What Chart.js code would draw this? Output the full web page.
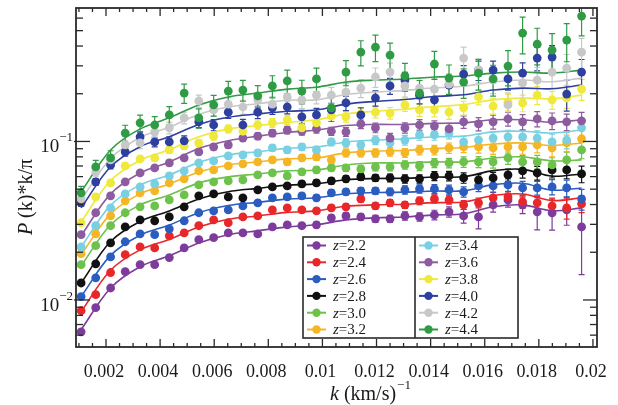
<!DOCTYPE html>
<html lang="en">
<head>
    <meta charset="UTF-8">
    <title>P(k) per redshift</title>
    <script src="https://cdn.jsdelivr.net/npm/chart.js"></script>
    <style>
        html, body { margin: 0; padding: 0; background: #fff; }
        #wrap { width: 618px; height: 405px; position: relative; }
    </style>
</head>
<body>
    <div id="wrap"><canvas id="pkChart"></canvas></div>

    <script>
        // k bins in (km/s)^-1
        const kValues = [0.00108, 0.00162, 0.00217, 0.00271, 0.00326, 0.00380, 0.00434, 0.00489, 0.00543, 0.00598,
            0.00652, 0.00706, 0.00761, 0.00815, 0.00870, 0.00924, 0.00978, 0.01033, 0.01087, 0.01142,
            0.01196, 0.01250, 0.01305, 0.01359, 0.01414, 0.01468, 0.01522, 0.01577, 0.01631, 0.01686,
            0.01740, 0.01794, 0.01849, 0.01903, 0.01958];
        const kFit = [0.00108, 0.00217, 0.00326, 0.00434, 0.00543, 0.00652, 0.00761, 0.00870, 0.00978,
            0.01087, 0.01196, 0.01305, 0.01414, 0.01522, 0.01631, 0.01740, 0.01849, 0.01958];

        const redshifts = ['2.2', '2.4', '2.6', '2.8', '3.0', '3.2', '3.4', '3.6', '3.8', '4.0', '4.2', '4.4'];
        const colors = ['#7d3c9c', '#e8272b', '#2b5cc0', '#111111', '#6cc24a', '#f5b626', '#78d0e2', '#8d5b9f',
            '#eee93a', '#2d3f9f', '#c8c8c8', '#2f9b45'];

        // measured P(k)*k/pi
        const pk22 = [0.00630, 0.00894, 0.0119, 0.0151, 0.0167, 0.0167, 0.0185, 0.0213, 0.0240, 0.0247, 0.0265, 0.0265, 0.0261, 0.0289, 0.0298, 0.0294, 0.0298, 0.0330, 0.0339, 0.0334, 0.0325, 0.0325, 0.0339, 0.0334, 0.0344, 0.0360, 0.0339, 0.0334, 0.0398, 0.0428, 0.0398, 0.0360, 0.0354, 0.0370, 0.0289];
        const pk24 = [0.00855, 0.0108, 0.0149, 0.0193, 0.0216, 0.0213, 0.0254, 0.0265, 0.0294, 0.0320, 0.0307, 0.0334, 0.0339, 0.0370, 0.0381, 0.0370, 0.0365, 0.0381, 0.0387, 0.0434, 0.0392, 0.0410, 0.0398, 0.0422, 0.0434, 0.0428, 0.0398, 0.0410, 0.0441, 0.0447, 0.0416, 0.0410, 0.0392, 0.0381, 0.0404];
        const pk26 = [0.0105, 0.0138, 0.0187, 0.0233, 0.0261, 0.0258, 0.0281, 0.0316, 0.0355, 0.0365, 0.0370, 0.0392, 0.0410, 0.0441, 0.0447, 0.0454, 0.0441, 0.0474, 0.0481, 0.0488, 0.0488, 0.0481, 0.0495, 0.0502, 0.0502, 0.0495, 0.0481, 0.0524, 0.0524, 0.0532, 0.0509, 0.0509, 0.0517, 0.0509, 0.0434];
        const pk28 = [0.0128, 0.0169, 0.0229, 0.0289, 0.0320, 0.0316, 0.0334, 0.0387, 0.0454, 0.0467, 0.0447, 0.0441, 0.0495, 0.0517, 0.0524, 0.0540, 0.0548, 0.0564, 0.0581, 0.0598, 0.0589, 0.0589, 0.0581, 0.0581, 0.0606, 0.0606, 0.0589, 0.0572, 0.0589, 0.0615, 0.0652, 0.0633, 0.0661, 0.0661, 0.0624];
        const pk30 = [0.0167, 0.0220, 0.0294, 0.0355, 0.0387, 0.0392, 0.0428, 0.0460, 0.0532, 0.0556, 0.0564, 0.0572, 0.0615, 0.0633, 0.0606, 0.0642, 0.0661, 0.0681, 0.0681, 0.0671, 0.0691, 0.0691, 0.0711, 0.0701, 0.0732, 0.0732, 0.0743, 0.0743, 0.0743, 0.0787, 0.0743, 0.0743, 0.0711, 0.0765, 0.0884];
        const pk32 = [0.0196, 0.0261, 0.0339, 0.0422, 0.0474, 0.0488, 0.0548, 0.0581, 0.0652, 0.0661, 0.0701, 0.0722, 0.0743, 0.0765, 0.0743, 0.0787, 0.0799, 0.0765, 0.0847, 0.0847, 0.0847, 0.0859, 0.0847, 0.0884, 0.0884, 0.0910, 0.0923, 0.0923, 0.0910, 0.0923, 0.0923, 0.0951, 0.0910, 0.0979, 0.104];
        const pk34 = [0.0216, 0.0294, 0.0381, 0.0467, 0.0517, 0.0540, 0.0606, 0.0652, 0.0732, 0.0754, 0.0810, 0.0822, 0.0847, 0.0910, 0.0884, 0.0923, 0.0884, 0.0993, 0.0979, 0.0951, 0.102, 0.0979, 0.102, 0.110, 0.110, 0.113, 0.0993, 0.102, 0.105, 0.107, 0.107, 0.105, 0.0993, 0.102, 0.122];
        const pk36 = [0.0258, 0.0355, 0.0454, 0.0556, 0.0633, 0.0681, 0.0732, 0.0787, 0.0859, 0.0923, 0.0951, 0.105, 0.108, 0.113, 0.118, 0.116, 0.120, 0.116, 0.115, 0.129, 0.122, 0.105, 0.122, 0.127, 0.125, 0.120, 0.133, 0.129, 0.133, 0.139, 0.133, 0.139, 0.135, 0.133, 0.135];
        const pk38 = [0.0307, 0.0447, 0.0548, 0.0701, 0.0776, 0.0787, 0.0884, 0.0937, 0.0979, 0.108, 0.120, 0.116, 0.127, 0.131, 0.137, 0.122, 0.131, 0.145, 0.143, 0.149, 0.153, 0.151, 0.170, 0.158, 0.158, 0.153, 0.163, 0.191, 0.167, 0.177, 0.175, 0.196, 0.183, 0.188, 0.214];
        const pk40 = [0.0410, 0.0556, 0.0711, 0.0859, 0.107, 0.0993, 0.0993, 0.101, 0.133, 0.127, 0.153, 0.127, 0.153, 0.163, 0.165, 0.143, 0.147, 0.158, 0.175, 0.147, 0.188, 0.224, 0.244, 0.196, 0.183, 0.227, 0.266, 0.282, 0.282, 0.248, 0.270, 0.336, 0.341, 0.199, 0.274];
        const pk42 = [0.0434, 0.0642, 0.0765, 0.0951, 0.0979, 0.115, 0.122, 0.141, 0.180, 0.158, 0.172, 0.165, 0.183, 0.172, 0.191, 0.183, 0.196, 0.196, 0.205, 0.217, 0.255, 0.274, 0.224, 0.217, 0.214, 0.230, 0.336, 0.282, 0.244, 0.170, 0.234, 0.244, 0.274, 0.290, 0.366];
        const pk44 = [0.0474, 0.0691, 0.0787, 0.113, 0.131, 0.127, 0.147, 0.202, 0.141, 0.170, 0.208, 0.211, 0.194, 0.224, 0.241, 0.208, 0.248, 0.163, 0.274, 0.366, 0.394, 0.351, 0.259, 0.202, 0.308, 0.251, 0.237, 0.270, 0.248, 0.299, 0.483, 0.411, 0.377, 0.436, 0.618];

        // relative 1-sigma errors
        const err22 = [.02, .02, .02, .02, .02, .02, .02, .02, .025, .025, .025, .03, .03, .03, .035, .035, .04, .04, .045, .045, .05, .05, .06, .06, .07, .075, .1, .16, .1, .1, .12, .23, .22, .2, .5];
        const err24 = [.02, .02, .02, .02, .02, .02, .02, .02, .025, .025, .025, .03, .03, .03, .03, .035, .035, .04, .04, .045, .045, .05, .05, .055, .06, .06, .065, .07, .08, .08, .09, .1, .12, .15, .12];
        const err26 = [.02, .02, .02, .02, .02, .02, .02, .02, .025, .025, .03, .03, .03, .035, .035, .04, .04, .045, .045, .05, .05, .055, .06, .06, .065, .07, .075, .08, .085, .09, .1, .1, .11, .12, .15];
        const err28 = [.02, .02, .02, .02, .02, .02, .02, .025, .025, .025, .03, .03, .03, .035, .035, .04, .04, .045, .045, .05, .05, .055, .06, .06, .065, .07, .075, .08, .085, .09, .1, .1, .11, .12, .12];
        const err30 = [.025, .025, .025, .025, .025, .025, .025, .03, .03, .03, .03, .035, .035, .035, .04, .04, .045, .045, .05, .05, .055, .055, .06, .065, .065, .07, .075, .08, .085, .09, .1, .1, .11, .12, .12];
        const err32 = [.03, .03, .03, .03, .03, .03, .03, .03, .035, .035, .035, .04, .04, .04, .045, .045, .05, .05, .055, .055, .06, .06, .065, .07, .07, .075, .08, .085, .09, .095, .1, .11, .12, .12, .13];
        const err34 = [.03, .03, .03, .03, .03, .03, .035, .035, .035, .04, .04, .04, .045, .045, .05, .05, .055, .055, .06, .06, .065, .065, .07, .075, .075, .08, .085, .09, .095, .1, .1, .11, .12, .12, .13];
        const err36 = [.035, .035, .035, .035, .035, .035, .04, .04, .04, .045, .045, .045, .05, .05, .055, .055, .06, .06, .065, .065, .07, .07, .075, .08, .08, .085, .09, .095, .1, .1, .11, .11, .12, .12, .13];
        const err38 = [.04, .04, .04, .04, .04, .045, .045, .05, .05, .055, .055, .06, .06, .065, .065, .07, .07, .075, .075, .08, .08, .085, .09, .09, .095, .1, .1, .11, .11, .12, .12, .13, .13, .14, .15];
        const err40 = [.05, .05, .055, .06, .07, .07, .075, .075, .08, .08, .085, .085, .09, .09, .095, .1, .1, .1, .105, .11, .11, .115, .12, .12, .125, .13, .13, .14, .14, .15, .16, .17, .18, .22, .2];
        const err42 = [.06, .06, .065, .07, .08, .08, .085, .085, .09, .09, .1, .1, .1, .11, .11, .12, .12, .12, .13, .13, .14, .14, .15, .15, .16, .16, .17, .17, .18, .19, .2, .2, .21, .22, .22];
        const err44 = [.1, .1, .11, .12, .12, .13, .13, .14, .14, .15, .15, .15, .16, .16, .17, .17, .17, .18, .18, .18, .19, .19, .2, .2, .2, .21, .21, .22, .22, .25, .26, .26, .27, .27, .25];

        // best-fit model curves, sampled on kFit
        const fit22 = [0.00649, 0.0119, 0.0162, 0.0190, 0.0229, 0.0258, 0.0273, 0.0289, 0.0298, 0.0320, 0.0330, 0.0334, 0.0344, 0.0349, 0.0387, 0.0398, 0.0365, 0.0381];
        const fit24 = [0.00843, 0.0154, 0.0207, 0.0241, 0.0289, 0.0323, 0.0339, 0.0357, 0.0365, 0.0390, 0.0398, 0.0402, 0.0411, 0.0415, 0.0456, 0.0466, 0.0424, 0.0441];
        const fit26 = [0.0105, 0.0191, 0.0256, 0.0297, 0.0355, 0.0394, 0.0413, 0.0433, 0.0441, 0.0468, 0.0476, 0.0479, 0.0487, 0.0488, 0.0534, 0.0545, 0.0493, 0.0509];
        const fit28 = [0.0128, 0.0234, 0.0313, 0.0364, 0.0434, 0.0482, 0.0506, 0.0530, 0.0540, 0.0574, 0.0584, 0.0586, 0.0597, 0.0599, 0.0655, 0.0667, 0.0604, 0.0624];
        const fit30 = [0.0164, 0.0298, 0.0398, 0.0460, 0.0548, 0.0598, 0.0624, 0.0652, 0.0661, 0.0711, 0.0732, 0.0732, 0.0743, 0.0743, 0.0787, 0.0799, 0.0754, 0.0765];
        const fit32 = [0.0193, 0.0349, 0.0467, 0.0540, 0.0642, 0.0711, 0.0743, 0.0776, 0.0787, 0.0847, 0.0871, 0.0878, 0.0903, 0.0917, 0.0964, 0.0979, 0.0944, 0.0979];
        const fit34 = [0.0216, 0.0395, 0.0532, 0.0615, 0.0738, 0.0822, 0.0862, 0.0905, 0.0923, 0.0993, 0.102, 0.104, 0.107, 0.108, 0.115, 0.116, 0.113, 0.118];
        const fit36 = [0.0254, 0.0467, 0.0633, 0.0743, 0.0903, 0.101, 0.108, 0.114, 0.118, 0.126, 0.128, 0.128, 0.130, 0.131, 0.137, 0.137, 0.132, 0.137];
        const fit38 = [0.0311, 0.0567, 0.0762, 0.0887, 0.107, 0.120, 0.126, 0.132, 0.137, 0.149, 0.155, 0.160, 0.166, 0.171, 0.183, 0.188, 0.186, 0.196];
        const fit40 = [0.0381, 0.0692, 0.0927, 0.107, 0.128, 0.142, 0.149, 0.155, 0.158, 0.172, 0.179, 0.184, 0.192, 0.197, 0.211, 0.217, 0.215, 0.227];
        const fit42 = [0.0428, 0.0780, 0.106, 0.123, 0.148, 0.165, 0.173, 0.182, 0.183, 0.198, 0.205, 0.210, 0.218, 0.223, 0.237, 0.244, 0.238, 0.251];
        const fit44 = [0.0481, 0.0884, 0.120, 0.141, 0.170, 0.191, 0.202, 0.214, 0.220, 0.237, 0.244, 0.248, 0.255, 0.259, 0.270, 0.274, 0.270, 0.282];

        // axis ticks
        const xMajorTicks = [0.002, 0.004, 0.006, 0.008, 0.010, 0.012, 0.014, 0.016, 0.018, 0.020];
        const xTickLabels = ['0.002', '0.004', '0.006', '0.008', '0.01', '0.012', '0.014', '0.016', '0.018', '0.02'];
        const xMinorTicks = [0.001, 0.0015, 0.0025, 0.003, 0.0035, 0.0045, 0.005, 0.0055, 0.0065, 0.007, 0.0075,
            0.0085, 0.009, 0.0095, 0.0105, 0.011, 0.0115, 0.0125, 0.013, 0.0135, 0.0145, 0.015, 0.0155,
            0.0165, 0.017, 0.0175, 0.0185, 0.019, 0.0195];
        const yMajorTicks = [0.01, 0.1];
        const yTickExponents = ['\u22122', '\u22121'];
        const yMinorTicks = [0.006, 0.007, 0.008, 0.009, 0.02, 0.03, 0.04, 0.05, 0.06, 0.07, 0.08, 0.09,
            0.2, 0.3, 0.4, 0.5, 0.6];

        const values = [pk22, pk24, pk26, pk28, pk30, pk32, pk34, pk36, pk38, pk40, pk42, pk44];
        const errors = [err22, err24, err26, err28, err30, err32, err34, err36, err38, err40, err42, err44];
        const fits = [fit22, fit24, fit26, fit28, fit30, fit32, fit34, fit36, fit38, fit40, fit42, fit44];

        const serif = '"Liberation Serif", "Times New Roman", serif';

        const series = redshifts.map((z, s) => ({ z: z, color: colors[s], values: values[s], err: errors[s], fit: fits[s] }));

        // first dataset is drawn last by Chart.js, so put high-z points first
        const datasets = [];
        for (let s = series.length - 1; s >= 0; s--) {
            datasets.push({
                label: 'z=' + series[s].z,
                data: series[s].values.map((v, i) => ({ x: kValues[i], y: v })),
                pointRadius: 4.4,
                pointHoverRadius: 4.4,
                pointBackgroundColor: series[s].color,
                pointBorderWidth: 0,
                showLine: false
            });
        }
        for (let s = series.length - 1; s >= 0; s--) {
            datasets.push({
                label: 'fit z=' + series[s].z,
                data: series[s].fit.map((v, i) => ({ x: kFit[i], y: v })),
                showLine: true,
                borderColor: series[s].color,
                borderWidth: 1.6,
                pointRadius: 0,
                tension: 0.35
            });
        }

        function tick(ctx, x1, y1, x2, y2) {
            ctx.beginPath();
            ctx.moveTo(x1, y1);
            ctx.lineTo(x2, y2);
            ctx.stroke();
        }

        const decorations = {
            id: 'decorations',
            beforeDatasetsDraw(chart) {
                const { ctx, chartArea: a, scales: { x, y } } = chart;
                ctx.save();
                ctx.beginPath();
                ctx.rect(a.left, a.top, a.right - a.left, a.bottom - a.top);
                ctx.clip();
                ctx.lineWidth = 1.2;
                series.forEach(s => {
                    ctx.strokeStyle = s.color;
                    s.values.forEach((v, i) => {
                        const px = x.getPixelForValue(kValues[i]);
                        const top = y.getPixelForValue(v * (1 + s.err[i]));
                        const bot = y.getPixelForValue(v * (1 - s.err[i]));
                        ctx.beginPath();
                        ctx.moveTo(px, top); ctx.lineTo(px, bot);
                        ctx.moveTo(px - 3, top); ctx.lineTo(px + 3, top);
                        ctx.moveTo(px - 3, bot); ctx.lineTo(px + 3, bot);
                        ctx.stroke();
                    });
                });
                ctx.restore();
            },
            afterDraw(chart) {
                const { ctx, chartArea: a, scales: { x, y } } = chart;
                ctx.save();
                ctx.strokeStyle = '#2a2a2a';
                ctx.fillStyle = '#1a1a1a';

                // ticks on all four sides, pointing inwards
                ctx.lineWidth = 1.3;
                xMinorTicks.forEach(v => {
                    const px = x.getPixelForValue(v);
                    tick(ctx, px, a.bottom, px, a.bottom - 4);
                    tick(ctx, px, a.top, px, a.top + 4);
                });
                xMajorTicks.forEach(v => {
                    const px = x.getPixelForValue(v);
                    tick(ctx, px, a.bottom, px, a.bottom - 8);
                    tick(ctx, px, a.top, px, a.top + 8);
                });
                yMinorTicks.forEach(v => {
                    const py = y.getPixelForValue(v);
                    tick(ctx, a.left, py, a.left + 7, py);
                    tick(ctx, a.right, py, a.right - 7, py);
                });
                yMajorTicks.forEach(v => {
                    const py = y.getPixelForValue(v);
                    tick(ctx, a.left - 2, py, a.left + 14, py);
                    tick(ctx, a.right, py, a.right - 14, py);
                });

                ctx.lineWidth = 1.8;
                ctx.strokeRect(a.left, a.top, a.right - a.left, a.bottom - a.top);

                // tick labels
                ctx.font = '18px ' + serif;
                ctx.textAlign = 'center';
                ctx.textBaseline = 'alphabetic';
                xMajorTicks.forEach((v, i) => {
                    ctx.fillText(xTickLabels[i], x.getPixelForValue(v) - 2, a.bottom + 30);
                });
                ctx.textAlign = 'right';
                yMajorTicks.forEach((v, i) => {
                    const py = y.getPixelForValue(v);
                    ctx.font = '13px ' + serif;
                    ctx.fillText(yTickExponents[i], 73, py);
                    const w = ctx.measureText(yTickExponents[i]).width;
                    ctx.font = '19px ' + serif;
                    ctx.fillText('10', 73 - w, py + 11);
                });

                // x title: k (km/s)^-1
                ctx.textAlign = 'left';
                let tx = 330;
                ctx.font = 'italic 20px ' + serif;
                ctx.fillText('k', tx, 400);
                tx += ctx.measureText('k').width;
                ctx.font = '20px ' + serif;
                ctx.fillText(' (km/s)', tx, 400);
                tx += ctx.measureText(' (km/s)').width;
                ctx.font = '13px ' + serif;
                ctx.fillText('\u22121', tx + 1, 389);

                // y title: P (k)*k/pi
                ctx.save();
                ctx.translate(32, 197);
                ctx.rotate(-Math.PI / 2);
                ctx.font = 'italic 20px ' + serif;
                const wP = ctx.measureText('P').width;
                ctx.font = '20px ' + serif;
                const rest = ' (k)*k/\u03c0';
                const wRest = ctx.measureText(rest).width;
                let ty = -(wP + wRest) / 2;
                ctx.font = 'italic 20px ' + serif;
                ctx.fillText('P', ty, 0);
                ctx.font = '20px ' + serif;
                ctx.fillText(rest, ty + wP, 0);
                ctx.restore();

                // legend box, two columns
                const box = { l: 303, t: 237, r: 518, b: 338, mid: 415 };
                ctx.fillStyle = '#ffffff';
                ctx.fillRect(box.l, box.t, box.r - box.l, box.b - box.t);
                ctx.lineWidth = 1.6;
                ctx.strokeStyle = '#2a2a2a';
                ctx.strokeRect(box.l, box.t, box.r - box.l, box.b - box.t);
                tick(ctx, box.mid, box.t, box.mid, box.b);
                ctx.textBaseline = 'middle';
                series.forEach((s, i) => {
                    const col = i < 6 ? 0 : 1;
                    const ry = 245.5 + (i % 6) * 16.8;
                    const sx = col ? 419 : 307;
                    ctx.strokeStyle = s.color;
                    ctx.lineWidth = 2;
                    tick(ctx, sx, ry, sx + 19, ry);
                    ctx.fillStyle = s.color;
                    ctx.beginPath();
                    ctx.arc(sx + 9.5, ry, 4.2, 0, Math.PI * 2);
                    ctx.fill();
                    ctx.fillStyle = '#1a1a1a';
                    ctx.font = 'italic 15px ' + serif;
                    ctx.fillText('z', sx + 26, ry + 1);
                    const wz = ctx.measureText('z').width;
                    ctx.font = '15px ' + serif;
                    ctx.fillText('=' + s.z, sx + 26 + wz, ry + 1);
                });
                ctx.restore();
            }
        };

        new Chart(document.getElementById('pkChart'), {
            type: 'scatter',
            data: { datasets: datasets },
            options: {
                responsive: true,
                maintainAspectRatio: false,
                animation: false,
                layout: { padding: { left: 76, right: 21, top: 8, bottom: 58 } },
                plugins: { legend: { display: false }, tooltip: { enabled: false } },
                scales: {
                    x: { type: 'linear', display: false, min: 0.000891, max: 0.02015 },
                    y: { type: 'logarithmic', display: false, min: 0.00505, max: 0.695 }
                }
            },
            plugins: [decorations]
        });
    </script>
</body>
</html>
